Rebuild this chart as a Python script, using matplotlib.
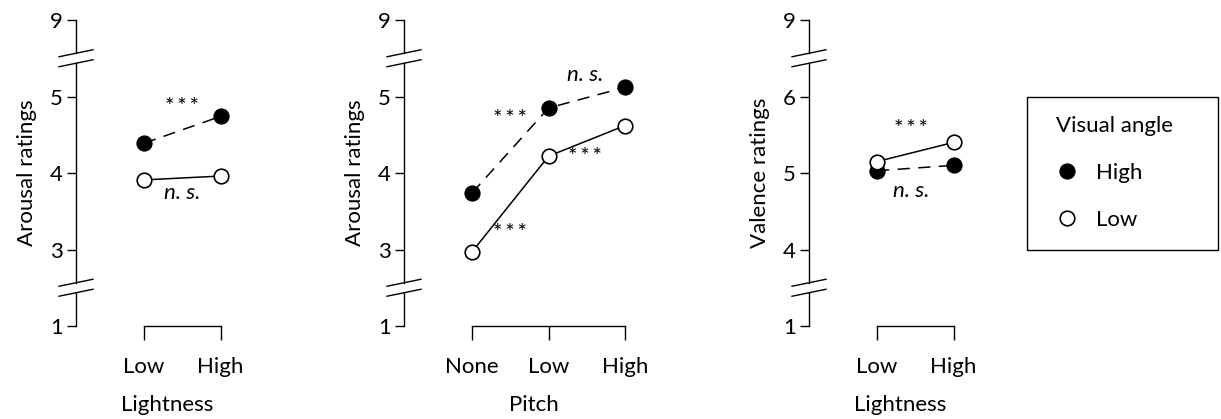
import matplotlib
matplotlib.use("Agg")
import matplotlib.pyplot as plt
from matplotlib.lines import Line2D
from matplotlib.patches import Rectangle

plt.rcParams['font.family'] = ['Lato', 'DejaVu Sans']
plt.rcParams['font.size'] = 16

W, H = 1221, 419

# data: mean ratings, filled = high visual angle, open = low visual angle
light_cats = ["Low", "High"]
pitch_cats = ["None", "Low", "High"]

arousal_light_high = [4.39, 4.74]
arousal_light_low = [3.91, 3.96]

arousal_pitch_high = [3.74, 4.85, 5.12]
arousal_pitch_low = [2.97, 4.22, 4.62]

valence_light_high = [5.03, 5.10]
valence_light_low = [5.15, 5.40]

arousal_ticks = [2, 3, 4, 5, 6]
arousal_ticklabels = ["1", "3", "4", "5", "9"]
valence_ticks = [3, 4, 5, 6, 7]
valence_ticklabels = ["1", "4", "5", "6", "9"]

STARS = "*\u2009*\u2009*"

# significance labels: (x, y, text)
notes1 = [(0.5, 4.86, STARS), (0.5, 3.74, "n. s.")]
notes2 = [(0.49, 4.70, STARS), (1.48, 5.28, "n. s."), (1.48, 4.21, STARS), (0.49, 3.22, STARS)]
notes3 = [(0.44, 5.57, STARS), (0.45, 4.76, "n. s.")]

PX_UNIT = 76.5   # pixels per rating unit / per category
X0 = -0.89


def make_axes(fig, left_px, ncat):
    width_px = (ncat - 1 - X0 + 0.5) * PX_UNIT
    ax = fig.add_axes([left_px / W, (H - 326) / H, width_px / W, 306 / H])
    ax.set_xlim(X0, ncat - 0.5)
    return ax, width_px


def draw_panel(ax, width_px, cats, high, low, ticks, ticklabels, ylabel, xlabel, notes):
    x = list(range(len(cats)))
    ymin, ymax = ticks[0], ticks[-1]
    ax.set_ylim(ymin, ymax)

    ax.plot(x, high, color="black", lw=1.1, ls=(0, (8, 5.5)), zorder=2)
    ax.plot(x, low, color="black", lw=1.1, ls="-", zorder=2)
    ax.plot(x, high, "o", ms=10.5, mfc="black", mec="black", mew=1.2, zorder=3)
    ax.plot(x, low, "o", ms=10.5, mfc="white", mec="black", mew=1.2, zorder=3)

    for nx, ny, txt in notes:
        if txt == STARS:
            ax.text(nx, ny, txt, ha="center", va="center", fontsize=16)
        else:
            ax.text(nx, ny, txt, ha="center", va="center", fontsize=16, style="italic")

    for s in ["top", "right", "left"]:
        ax.spines[s].set_visible(False)
    ax.spines["bottom"].set_bounds(0, len(cats) - 1)
    ax.spines["bottom"].set_linewidth(1.0)

    ax.set_xticks(x)
    ax.set_xticklabels(cats)
    ax.set_yticks(ticks)
    ax.set_yticklabels(ticklabels)
    ax.tick_params(axis="x", direction="out", length=10, width=1.0, pad=12)
    ax.tick_params(axis="y", direction="out", length=6.5, width=1.0, pad=3)
    ax.set_xlabel(xlabel, labelpad=13)
    ax.set_ylabel(ylabel, labelpad=9)

    # broken left spine
    tr = ax.get_yaxis_transform()
    half_gap = 5 / PX_UNIT
    tilt = 3.5 / PX_UNIT
    half_w = 17 / width_px
    b_lo, b_hi = ymin + 0.5, ymax - 0.5
    segs = [(ymin, b_lo - half_gap), (b_lo + half_gap, b_hi - half_gap), (b_hi + half_gap, ymax)]
    for a, b in segs:
        ax.add_line(Line2D([0, 0], [a, b], transform=tr, color="black", lw=1.0, clip_on=False))
    for c in (b_lo, b_hi):
        for d in (-half_gap, half_gap):
            ax.add_line(Line2D([-half_w, half_w], [c + d - tilt, c + d + tilt],
                               transform=tr, color="black", lw=1.0, clip_on=False))


fig = plt.figure(figsize=(W / 100, H / 100), dpi=100)

ax1, w1 = make_axes(fig, 76, len(light_cats))
draw_panel(ax1, w1, light_cats, arousal_light_high, arousal_light_low,
           arousal_ticks, arousal_ticklabels, "Arousal ratings", "Lightness", notes1)

ax2, w2 = make_axes(fig, 404, len(pitch_cats))
draw_panel(ax2, w2, pitch_cats, arousal_pitch_high, arousal_pitch_low,
           arousal_ticks, arousal_ticklabels, "Arousal ratings", "Pitch", notes2)

ax3, w3 = make_axes(fig, 809, len(light_cats))
draw_panel(ax3, w3, light_cats, valence_light_high, valence_light_low,
           valence_ticks, valence_ticklabels, "Valence ratings", "Lightness", notes3)

# legend box drawn separately, content placed inside it
fig.patches.append(Rectangle((1027 / W, 1 - 250 / H), 191 / W, 153 / H, transform=fig.transFigure,
                             fill=False, edgecolor="black", lw=1.0))
handles = [Line2D([], [], ls="none", marker="o", ms=10.5, mfc="black", mec="black", mew=1.2),
           Line2D([], [], ls="none", marker="o", ms=10.5, mfc="white", mec="black", mew=1.2)]
leg = fig.legend(handles, ["High", "Low"], title="Visual angle", loc="upper left",
                 bbox_to_anchor=(1056 / W, 1 - 116 / H), frameon=False, borderpad=0,
                 borderaxespad=0, labelspacing=1.22, handletextpad=0.8,
                 handlelength=1.0, alignment="left", title_fontsize=16, fontsize=16)

fig.savefig("out.png", dpi=100)
